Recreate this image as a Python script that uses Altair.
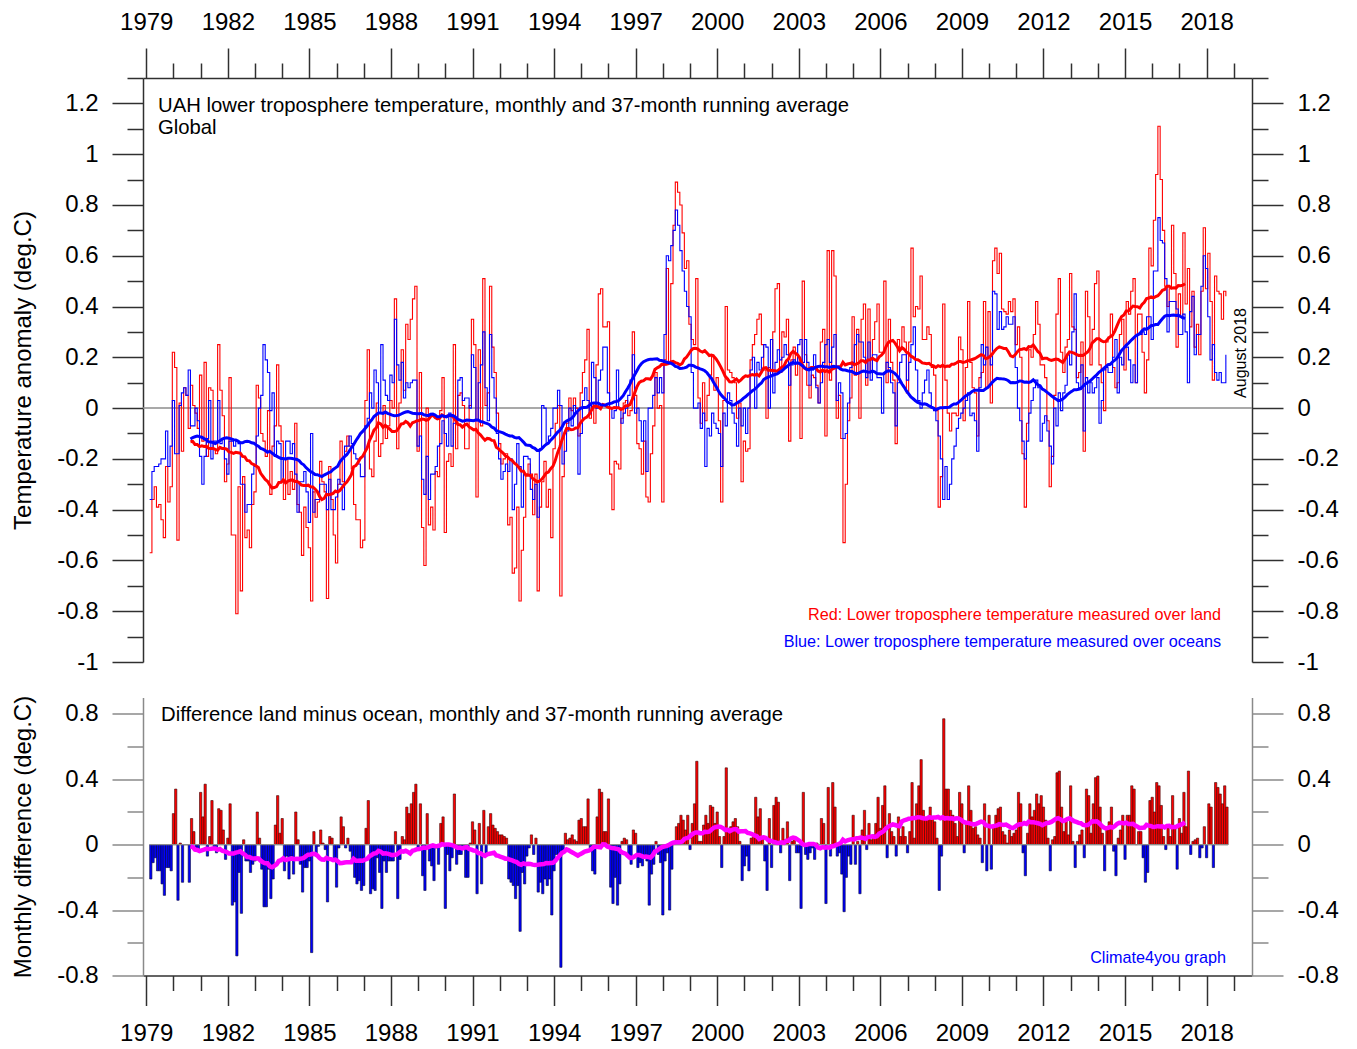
import altair as alt
import numpy as np
import pandas as pd

FONT = "Liberation Sans"
FIRST_YEAR = 1979

# Monthly anomaly over oceans (deg C), Jan 1979 .. Aug 2018
ocean = [
    -0.36, -0.25, -0.23, -0.23, -0.22, -0.20, -0.20, -0.09, -0.23, -0.15, 0.03, -0.18,   # 1979
    -0.18, 0.01, 0.06, 0.08, 0.05, 0.15, -0.07, -0.07, 0.00, -0.05, -0.19, -0.30,       # 1980
    -0.19, -0.12, 0.03, -0.20, -0.13, -0.13, 0.03, -0.14, -0.12, -0.20, -0.26, -0.13,   # 1981
    -0.13, -0.15, -0.13, -0.14, -0.30, -0.30, -0.41, -0.38, -0.38, -0.26, -0.23, -0.11, # 1982
    0.00, 0.05, 0.25, 0.19, 0.14, -0.01, 0.06, -0.19, -0.13, -0.14, -0.29, -0.20,       # 1983
    -0.13, -0.13, -0.18, -0.14, -0.26, -0.41, -0.29, -0.29, -0.25, -0.33, -0.45, -0.10, # 1984
    -0.41, -0.36, -0.36, -0.30, -0.30, -0.30, -0.40, -0.28, -0.40, -0.40, -0.35, -0.28, # 1985
    -0.30, -0.40, -0.15, -0.15, -0.11, -0.14, -0.18, -0.20, -0.22, -0.27, -0.27, -0.07, # 1986
    -0.04, 0.06, 0.00, 0.15, 0.10, -0.02, 0.25, 0.11, 0.05, 0.03, 0.13, 0.10,           # 1987
    0.35, 0.17, 0.11, 0.18, 0.04, 0.10, 0.08, 0.10, 0.11, 0.11, -0.15, -0.11,           # 1988
    -0.28, -0.34, -0.19, -0.36, -0.26, -0.26, -0.23, -0.15, -0.14, -0.05, -0.10, -0.15, # 1989
    -0.02, -0.15, -0.06, -0.04, 0.11, 0.12, 0.03, 0.04, 0.04, 0.00, 0.21, 0.16,         # 1990
    -0.05, 0.10, 0.17, 0.30, 0.08, -0.05, 0.29, 0.12, 0.04, -0.10, -0.20, -0.28,        # 1991
    -0.25, -0.22, -0.25, -0.20, -0.40, -0.30, -0.14, -0.23, -0.39, -0.19, -0.19, -0.20, # 1992
    -0.32, -0.36, -0.30, -0.43, -0.16, 0.01, 0.00, -0.14, -0.11, -0.08, 0.00, 0.00,     # 1993
    0.07, 0.01, -0.22, -0.17, -0.09, 0.00, -0.07, 0.01, -0.02, -0.26, -0.10, 0.03,      # 1994
    0.08, 0.03, -0.02, 0.18, 0.12, 0.00, 0.11, 0.15, 0.24, 0.24, 0.06, 0.00,            # 1995
    -0.04, -0.01, 0.15, 0.00, -0.06, -0.02, 0.00, 0.05, 0.11, 0.21, -0.02, 0.00,        # 1996
    -0.05, -0.13, -0.05, -0.25, 0.00, 0.00, 0.05, 0.12, 0.06, 0.12, 0.06, 0.29,         # 1997
    0.60, 0.58, 0.64, 0.70, 0.78, 0.72, 0.62, 0.54, 0.46, 0.40, 0.36, 0.14,             # 1998
    0.00, 0.00, 0.02, -0.08, -0.02, -0.23, -0.08, -0.11, -0.02, -0.06, -0.08, -0.10,    # 1999
    -0.23, -0.02, -0.07, 0.06, 0.03, -0.02, -0.06, -0.15, 0.00, -0.07, 0.00, -0.10,     # 2000
    0.00, 0.15, 0.20, 0.00, 0.18, 0.15, 0.20, 0.25, 0.24, 0.00, 0.27, 0.06,             # 2001
    0.18, 0.23, 0.19, 0.20, 0.25, 0.21, 0.09, 0.17, 0.19, 0.18, 0.25, 0.27,             # 2002
    0.18, 0.27, 0.18, 0.09, 0.15, 0.21, 0.08, 0.02, 0.10, 0.18, 0.25, 0.27,             # 2003
    0.18, 0.24, 0.29, 0.03, 0.10, 0.06, -0.12, -0.10, 0.02, 0.16, 0.18, 0.25,           # 2004
    0.29, 0.26, 0.26, 0.20, 0.12, 0.26, 0.11, 0.21, 0.21, 0.12, 0.12, -0.02,            # 2005
    0.14, 0.18, 0.16, 0.10, 0.06, -0.07, 0.10, 0.18, 0.21, 0.21, 0.11, 0.18,            # 2006
    0.25, 0.32, 0.15, 0.03, 0.00, 0.06, 0.11, 0.15, 0.06, 0.00, -0.01, -0.05,           # 2007
    -0.11, -0.20, -0.36, -0.23, -0.36, -0.30, -0.20, -0.15, -0.08, -0.04, -0.02, 0.00,  # 2008
    0.03, 0.06, -0.03, -0.02, -0.05, -0.17, 0.08, 0.25, 0.17, 0.24, 0.20, 0.17,         # 2009
    0.46, 0.45, 0.31, 0.38, 0.31, 0.32, 0.36, 0.33, 0.33, 0.36, 0.16, 0.00,             # 2010
    -0.05, -0.13, -0.20, -0.13, -0.02, 0.03, 0.08, 0.11, 0.08, -0.13, -0.06, -0.03,     # 2011
    -0.09, -0.15, -0.22, 0.00, -0.07, 0.06, -0.01, 0.06, 0.09, 0.21, 0.17, 0.30,        # 2012
    0.45, 0.10, 0.08, 0.17, -0.09, 0.12, 0.06, 0.10, 0.06, 0.08, 0.12, -0.06,           # 2013
    0.03, 0.15, 0.16, 0.14, 0.14, 0.20, 0.27, 0.06, 0.20, 0.17, 0.24, 0.24,             # 2014
    0.19, 0.10, 0.17, 0.10, 0.29, 0.29, 0.30, 0.29, 0.36, 0.36, 0.27, 0.54,             # 2015
    0.54, 0.75, 0.66, 0.65, 0.51, 0.30, 0.42, 0.42, 0.42, 0.39, 0.29, 0.29,             # 2016
    0.37, 0.30, 0.10, 0.38, 0.44, 0.21, 0.29, 0.29, 0.48, 0.60, 0.55, 0.36,             # 2017
    0.19, 0.25, 0.14, 0.11, 0.14, 0.10, 0.10, 0.21,                                     # 2018
]

land_minus_ocean = [
    -0.21, -0.11, -0.08, -0.16, -0.16, -0.24, -0.31, -0.14, -0.14, -0.16, 0.19, 0.34,   # 1979
    -0.34, 0.01, -0.23, 0.00, 0.00, -0.23, 0.16, 0.08, -0.02, -0.03, 0.32, 0.17,        # 1980
    0.37, -0.07, 0.05, 0.27, -0.03, -0.05, 0.22, 0.21, 0.09, -0.09, 0.04, 0.25,         # 1981
    -0.37, -0.35, -0.68, -0.17, -0.42, 0.03, -0.10, -0.10, -0.17, -0.12, -0.10, 0.20,   # 1982
    0.04, -0.15, -0.38, -0.38, -0.15, -0.33, -0.21, 0.12, 0.30, 0.07, 0.16, -0.16,      # 1983
    -0.07, -0.21, -0.07, -0.18, 0.20, 0.03, -0.12, -0.29, -0.14, -0.14, -0.10, -0.66,   # 1984
    0.08, -0.07, -0.01, 0.09, 0.01, -0.03, -0.35, 0.05, 0.04, -0.10, -0.26, -0.02,      # 1985
    0.17, 0.11, -0.02, 0.04, -0.04, -0.10, -0.20, -0.24, -0.22, -0.28, -0.25, 0.10,     # 1986
    0.27, -0.30, -0.27, -0.28, -0.08, -0.17, -0.39, -0.10, -0.17, -0.10, -0.10, -0.10,  # 1987
    0.08, -0.33, -0.09, 0.05, 0.03, 0.23, 0.19, 0.25, 0.32, 0.37, -0.02, 0.25,          # 1988
    -0.19, -0.28, 0.19, -0.10, -0.13, -0.22, -0.02, -0.12, 0.13, 0.17, -0.39, -0.06,    # 1989
    -0.16, -0.08, 0.31, -0.12, -0.06, -0.06, -0.02, -0.20, -0.20, 0.01, 0.14, 0.09,     # 1990
    -0.30, 0.13, -0.24, 0.21, -0.07, 0.11, 0.19, 0.12, 0.10, 0.08, 0.06, 0.06,          # 1991
    0.05, 0.04, -0.21, -0.23, -0.25, -0.33, -0.25, -0.53, -0.17, -0.24, -0.07, -0.02,   # 1992
    0.06, -0.06, 0.04, -0.29, -0.23, -0.30, -0.21, -0.25, -0.21, -0.43, -0.16, -0.06,   # 1993
    -0.06, -0.75, -0.05, 0.07, 0.03, 0.04, 0.06, 0.03, 0.02, 0.15, 0.16, 0.11,          # 1994
    0.11, 0.28, -0.02, -0.16, -0.18, 0.17, 0.34, 0.32, 0.08, 0.08, 0.28, -0.26,         # 1995
    -0.36, -0.20, -0.37, -0.24, 0.02, 0.04, 0.03, -0.08, -0.12, 0.09, 0.07, -0.14,      # 1996
    -0.11, -0.13, -0.08, -0.10, -0.37, -0.18, -0.12, 0.02, -0.06, -0.11, -0.43, -0.10,  # 1997
    -0.05, -0.40, -0.15, 0.02, 0.11, 0.13, 0.18, 0.15, 0.09, 0.18, -0.03, 0.13,         # 1998
    0.25, 0.51, 0.02, 0.02, 0.12, 0.18, 0.13, 0.24, 0.23, 0.13, 0.20, 0.05,             # 1999
    -0.14, 0.05, 0.47, 0.09, 0.11, 0.14, 0.16, 0.11, 0.02, -0.22, -0.13, -0.07,         # 2000
    -0.16, 0.04, 0.05, 0.29, 0.17, 0.22, 0.05, -0.10, -0.28, 0.16, -0.14, 0.24,         # 2001
    0.29, 0.26, -0.05, 0.10, 0.03, 0.14, -0.22, 0.02, 0.05, -0.05, -0.05, -0.39,        # 2002
    0.32, -0.06, -0.09, -0.05, -0.02, -0.09, 0.01, 0.00, 0.16, 0.13, -0.36, 0.35,       # 2003
    -0.07, 0.38, 0.23, -0.07, -0.05, -0.18, -0.41, -0.20, -0.07, -0.12, 0.18, -0.12,    # 2004
    0.02, -0.30, 0.09, 0.21, -0.03, 0.13, 0.03, 0.06, 0.13, 0.29, 0.10, 0.24,           # 2005
    0.36, -0.08, 0.19, 0.08, 0.05, -0.07, 0.17, 0.05, 0.11, 0.05, -0.05, 0.08,          # 2006
    0.38, 0.04, 0.25, 0.36, 0.52, 0.21, 0.16, 0.17, 0.23, 0.16, 0.14, 0.04,             # 2007
    -0.28, -0.07, 0.77, 0.34, 0.34, 0.21, 0.18, 0.13, 0.05, 0.32, 0.25, -0.05,          # 2008
    0.13, 0.36, 0.21, 0.10, 0.11, 0.06, 0.04, -0.11, 0.25, -0.16, 0.18, -0.15,          # 2009
    0.12, 0.18, 0.22, 0.23, 0.08, 0.06, 0.01, 0.09, 0.05, 0.07, 0.09, 0.32,             # 2010
    0.25, -0.05, -0.19, 0.07, 0.25, 0.17, 0.21, 0.31, 0.25, 0.30, 0.23, 0.15,           # 2011
    0.04, -0.16, 0.03, 0.05, 0.44, 0.45, 0.23, 0.08, 0.15, 0.06, 0.36, 0.02,            # 2012
    -0.14, 0.02, 0.06, 0.09, -0.08, 0.34, 0.30, 0.07, 0.25, 0.41, 0.42, 0.23,           # 2013
    0.07, -0.16, 0.10, 0.14, 0.23, -0.04, -0.19, 0.04, 0.09, 0.18, -0.09, 0.18,         # 2014
    0.18, 0.36, 0.34, 0.00, 0.08, 0.08, -0.08, -0.23, -0.17, 0.27, 0.29, 0.20,          # 2015
    0.38, 0.36, 0.24, 0.05, -0.03, 0.10, 0.05, 0.30, 0.11, -0.15, 0.16, 0.07,           # 2016
    0.32, 0.11, 0.45, -0.06, 0.02, 0.03, 0.04, -0.08, -0.02, 0.11, -0.08, 0.25,         # 2017
    0.23, -0.14, 0.38, 0.35, 0.31, 0.25, 0.36, 0.23,                                    # 2018
]

year_ticks = list(range(1979, 2020))
top_y_ticks = [round(-1.0 + 0.1 * i, 1) for i in range(24)]
bottom_y_ticks = [round(-0.8 + 0.2 * i, 1) for i in range(9)]

RUN = 37
n = len(ocean)
t = FIRST_YEAR + 0.125 + np.arange(n) / 12.0
ocean_a = np.array(ocean)
diff_a = np.array(land_minus_ocean)
land_a = np.round(ocean_a + diff_a, 3)

df = pd.DataFrame({
    "t": t,
    "t_end": t + 1.0 / 12.0,
    "land": land_a,
    "ocean": ocean_a,
    "diff": diff_a,
    "zero": 0.0,
    "land_ma": pd.Series(land_a).rolling(RUN, center=True).mean(),
    "ocean_ma": pd.Series(ocean_a).rolling(RUN, center=True).mean(),
    "diff_ma": pd.Series(diff_a).rolling(RUN, center=True).mean(),
    "sign": np.where(diff_a >= 0, "pos", "neg"),
})

xs = alt.Scale(domain=[1978.88, 2019.67], nice=False, zero=False)
yts = alt.Scale(domain=[-1.0, 1.3], nice=False, zero=False)
ybs = alt.Scale(domain=[-0.8, 0.9], nice=False, zero=False)

AX_DARK = "#303030"
AX_GREY = "#8a8a8a"
PLOT_W = 1109


def year_axis(orient, pad):
    return alt.Axis(
        orient=orient, values=year_ticks, title=None, grid=False,
        tickSize={"condition": {"test": "(datum.value - 1979) % 3 == 0", "value": 30}, "value": 15},
        labelExpr="(datum.value - 1979) % 3 == 0 ? '' + datum.value : ''",
        labelFont=FONT, labelFontSize=24, labelColor="black", labelPadding=pad,
        labelOverlap=False, labelFlush=False,
        domainColor=AX_DARK, domainWidth=1.5, tickColor=AX_DARK, tickWidth=1.5,
    )


def value_axis(orient, values, major_test, title=None, color=AX_DARK):
    kw = dict(
        orient=orient, values=values, grid=False,
        tickSize={"condition": {"test": major_test, "value": 31}, "value": 16},
        labelExpr=major_test + " ? '' + datum.value : ''",
        labelFont=FONT, labelFontSize=24, labelColor="black", labelPadding=14,
        labelOverlap=False, labelFlush=False,
        domainColor=color, domainWidth=1.5, tickColor=color, tickWidth=1.5,
    )
    if title:
        kw.update(title=title, titleFont=FONT, titleFontSize=24, titleFontWeight="normal",
                  titleColor="black", titlePadding=21)
    else:
        kw.update(title=None)
    return alt.Axis(**kw)


TOP_MAJOR = "abs(round(datum.value * 10)) % 2 == 0"
BOT_MAJOR = "abs(round(datum.value * 10)) % 4 == 0"


def label(text, x, y, color="black", size=20.3, align="left", angle=0, baseline="alphabetic"):
    return alt.Chart(pd.DataFrame({"s": [text]})).mark_text(
        font=FONT, fontSize=size, color=color, align=align, baseline=baseline, angle=angle
    ).encode(text="s:N", x=alt.value(x), y=alt.value(y))


# ---------------- upper panel ----------------
zero_top = alt.Chart(pd.DataFrame({"v": [0.0]})).mark_rule(color="#8c8c8c", strokeWidth=1.5).encode(
    y=alt.Y("v:Q", scale=yts, axis=value_axis("left", top_y_ticks, TOP_MAJOR, "Temperature anomaly (deg.C)"))
)
land_line = alt.Chart(df).mark_line(interpolate="step-after", color="#ff0000", strokeWidth=1.1).encode(
    x=alt.X("t:Q", scale=xs, axis=year_axis("top", 14)),
    y=alt.Y("land:Q", scale=yts, axis=None),
)
ocean_line = alt.Chart(df).mark_line(interpolate="step-after", color="#0000ff", strokeWidth=1.1).encode(
    x=alt.X("t:Q", scale=xs, axis=None),
    y=alt.Y("ocean:Q", scale=yts, axis=value_axis("right", top_y_ticks, TOP_MAJOR)),
)
land_ma = alt.Chart(df).mark_line(color="#ff0000", strokeWidth=3).encode(
    x=alt.X("t:Q", scale=xs, axis=None), y=alt.Y("land_ma:Q", scale=yts, axis=None)
)
ocean_ma = alt.Chart(df).mark_line(color="#0000ff", strokeWidth=3).encode(
    x=alt.X("t:Q", scale=xs, axis=None), y=alt.Y("ocean_ma:Q", scale=yts, axis=None)
)

top = alt.layer(
    zero_top, land_line, ocean_line, land_ma, ocean_ma,
    label("UAH lower troposphere temperature, monthly and 37-month running average", 15, 34),
    label("Global", 15, 56),
    label("Red: Lower troposphere temperature measured over land", 1078, 542, color="#ff0000", size=16.2, align="right"),
    label("Blue: Lower troposphere temperature measured over oceans", 1078, 569, color="#0000ff", size=16.2, align="right"),
    label("August 2018", 1098, 275, size=16, align="center", angle=270, baseline="middle"),
).resolve_axis(x="independent", y="independent").properties(width=PLOT_W, height=584)

# ---------------- lower panel ----------------
bars = alt.Chart(df).mark_rect(strokeWidth=0.6).encode(
    x=alt.X("t:Q", scale=xs, axis=year_axis("bottom", 16)),
    x2="t_end:Q",
    y=alt.Y("diff:Q", scale=ybs, axis=value_axis("left", bottom_y_ticks, BOT_MAJOR, "Monthly difference (deg.C)", AX_GREY)),
    y2="zero:Q",
    color=alt.Color("sign:N", scale=alt.Scale(domain=["pos", "neg"], range=["#ff0000", "#0000ff"]), legend=None),
    stroke=alt.Stroke("sign:N", scale=alt.Scale(domain=["pos", "neg"], range=["#3a0000", "#00003a"]), legend=None),
)
baseline = alt.Chart(df).mark_rule(color="#8c8c8c", strokeWidth=1.2).encode(
    x=alt.X("min(t):Q", scale=xs, axis=None),
    x2=alt.X2("max(t_end)"),
    y=alt.Y("min(zero):Q", scale=ybs, axis=None),
)
diff_ma = alt.Chart(df).mark_line(color="#ff00ff", strokeWidth=4.5).encode(
    x=alt.X("t:Q", scale=xs, axis=None),
    y=alt.Y("diff_ma:Q", scale=ybs, axis=value_axis("right", bottom_y_ticks, BOT_MAJOR, None, AX_GREY)),
)

bottom = alt.layer(
    bars, baseline, diff_ma,
    label("Difference land minus ocean, monthly and 37-month running average", 18, 23),
    label("Climate4you graph", 1083, 265, color="#0000ff", size=16.2, align="right"),
).resolve_axis(x="independent", y="independent").properties(width=PLOT_W, height=278)

chart = alt.vconcat(top, bottom, spacing=35.5, bounds="flush").properties(
    padding={"left": 3, "top": 2, "right": 5, "bottom": 0}
).configure_view(stroke=None)

chart.save("out.html", embed_options={"renderer": "svg", "actions": False})
